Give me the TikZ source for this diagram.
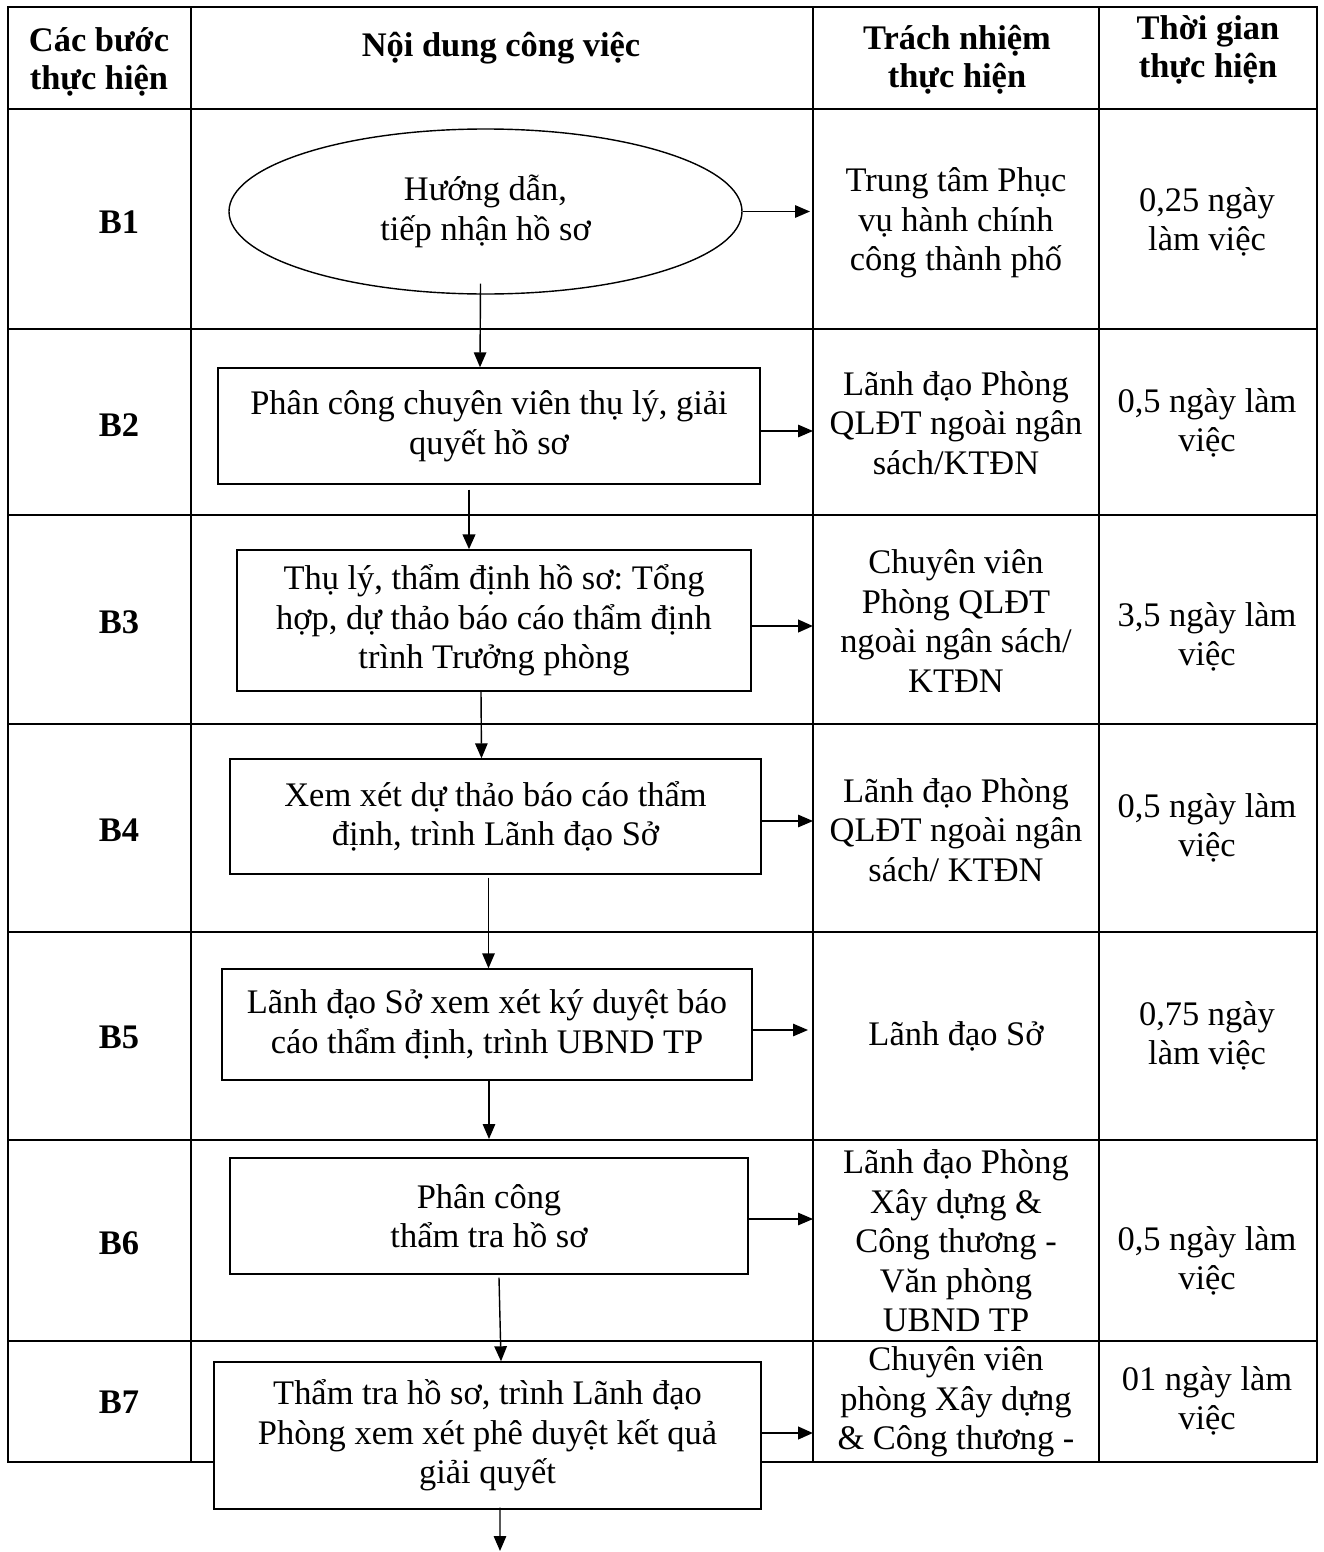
\documentclass[tikz,border=0pt]{standalone}
\usepackage{fontspec}
\setmainfont{Liberation Serif}
\usetikzlibrary{arrows.meta,positioning,calc,shapes.geometric}
\frenchspacing

\begin{document}
\begin{tikzpicture}[
  x=0.2mm,y=-0.2mm,
  font=\fontsize{19.6pt}{22.5pt}\selectfont,
  grid/.style={line width=1.2pt,draw=black},
  hd/.style={font=\fontsize{19.6pt}{21.5pt}\selectfont\bfseries,align=center,inner sep=0pt},
  stp/.style={font=\fontsize{19.6pt}{22.5pt}\selectfont\bfseries,inner sep=0pt},
  txt/.style={align=center,inner sep=0pt},
  box/.style={draw,fill=white,line width=0.8pt,align=center,inner sep=0pt},
  oval/.style={ellipse,draw,fill=white,line width=0.8pt,align=center,inner sep=0pt},
  arr/.style={line width=0.8pt,-{Triangle[length=3mm,width=2.5mm]}},
  arrb/.style={arr,line width=1.5pt}
]

\useasboundingbox (0,0) rectangle (1323,1552);

% ================= table grid =================
\draw[grid] (8,7) rectangle (1317,1462);
\draw[grid] (8,109) -- (1317,109)  (8,329) -- (1317,329)  (8,515) -- (1317,515)
            (8,724) -- (1317,724)  (8,932) -- (1317,932)  (8,1140) -- (1317,1140)
            (8,1341) -- (1317,1341);
\draw[grid] (191,7) -- (191,1462)  (813,7) -- (813,1462)  (1099,7) -- (1099,1462);

% ================= header =================
\node[hd] (h1) at (99,62)   {Các bước\\thực hiện};
\node[hd] (h2) at (501,48)  {Nội dung công việc};
\node[hd] (h3) at (957,60)  {Trách nhiệm\\thực hiện};
\node[hd] (h4) at (1208,50) {Thời gian\\thực hiện};

% ================= steps =================
\node[stp] (s1) at (119,222)  {B1};
\node[stp] (s2) at (119,425)  {B2};
\node[stp] (s3) at (119,622)  {B3};
\node[stp] (s4) at (119,830)  {B4};
\node[stp] (s5) at (119,1037) {B5};
\node[stp] (s6) at (119,1243) {B6};
\node[stp] (s7) at (119,1402) {B7};

% ================= work flow =================
\node[oval,minimum width=102.6mm,minimum height=33mm] (b1) at (485.5,211.5)
  {Hướng dẫn,\\tiếp nhận hồ sơ};
\node[box,minimum width=108.4mm,minimum height=23.2mm] (b2) at (489,426)
  {Phân công chuyên viên thụ lý, giải\\quyết hồ sơ};
\node[box,minimum width=102.8mm,minimum height=28.2mm] (b3) at (494,620.5)
  {Thụ lý, thẩm định hồ sơ: Tổng\\hợp, dự thảo báo cáo thẩm định\\trình Trưởng phòng};
\node[box,minimum width=106.2mm,minimum height=23mm] (b4) at (495.5,816.5)
  {Xem xét dự thảo báo cáo thẩm\\định, trình Lãnh đạo Sở};
\node[box,minimum width=106mm,minimum height=22.2mm] (b5) at (487,1024.5)
  {Lãnh đạo Sở xem xét ký duyệt báo\\cáo thẩm định, trình UBND TP};
\node[box,minimum width=103.6mm,minimum height=23.2mm] (b6) at (489,1216)
  {Phân công\\thẩm tra hồ sơ};
\node[box,minimum width=109.4mm,minimum height=29.4mm] (b7) at (487.5,1435.5)
  {Thẩm tra hồ sơ, trình Lãnh đạo\\Phòng xem xét phê duyệt kết quả\\giải quyết};

% ================= responsibility =================
\node[txt] (r1) at (956,223)  {Trung tâm Phục\\vụ hành chính\\công thành phố};
\node[txt] (r2) at (956,423)  {Lãnh đạo Phòng\\QLĐT ngoài ngân\\sách/KTĐN};
\node[txt] (r3) at (956,621)  {Chuyên viên\\Phòng QLĐT\\ngoài ngân sách/\\KTĐN};
\node[txt] (r4) at (956,830)  {Lãnh đạo Phòng\\QLĐT ngoài ngân\\sách/ KTĐN};
\node[txt] (r5) at (956,1036) {Lãnh đạo Sở};
\node[txt] (r6) at (956,1241) {Lãnh đạo Phòng\\Xây dựng \&\\Công thương -\\Văn phòng\\UBND TP};
\node[txt] (r7) at (956,1402) {Chuyên viên\\phòng Xây dựng\\\& Công thương -};

% ================= time =================
\node[txt] (t1) at (1207,222)  {0,25 ngày\\làm việc};
\node[txt] (t2) at (1207,423)  {0,5 ngày làm\\việc};
\node[txt] (t3) at (1207,637)  {3,5 ngày làm\\việc};
\node[txt] (t4) at (1207,828)  {0,5 ngày làm\\việc};
\node[txt] (t5) at (1207,1036) {0,75 ngày\\làm việc};
\node[txt] (t6) at (1207,1261) {0,5 ngày làm\\việc};
\node[txt] (t7) at (1207,1401) {01 ngày làm\\việc};

% ================= arrows =================
\coordinate (c1) at (810,211.5);
\coordinate (c2) at (813,431);
\coordinate (c3) at (813,626);
\coordinate (c4) at (813,821);
\coordinate (c5) at (808,1030);
\coordinate (c6) at (813,1219);
\coordinate (c7) at (813,1433);
\coordinate (e5) at (489,1139);
\coordinate (e7) at (500,1551);

\draw[arr]  ($(b1.south)+(-5,-11)$) -- ($(b2.north)+(-9,0)$);
\draw[arrb] ($(b2.south)+(-20,5)$) -- ($(b3.north)+(-25,0)$);
\draw[arr]  ($(b3.south)+(-13,0)$) -- ($(b4.north)+(-14,0)$);
\draw[arr]  ($(b4.south)+(-7,3)$) -- ($(b5.north)+(1.5,0)$);
\draw[arr]  ($(b5.south)+(2,0)$) -- (e5);
\draw[arr]  ($(b6.south)+(10,3)$) -- ($(b7.north)+(13.5,0)$);
\draw[arr]  ($(b7.south)+(12.5,-2)$) -- (e7);

\draw[arr]  (b1.east) -- (c1);
\draw[arr]  (b2.east |- c2) -- (c2);
\draw[arrb] (b3.east |- c3) -- (c3);
\draw[arr]  (b4.east |- c4) -- (c4);
\draw[arr]  (b5.east |- c5) -- (c5);
\draw[arr]  (b6.east |- c6) -- (c6);
\draw[arrb] (b7.east |- c7) -- (c7);

\end{tikzpicture}
\end{document}
